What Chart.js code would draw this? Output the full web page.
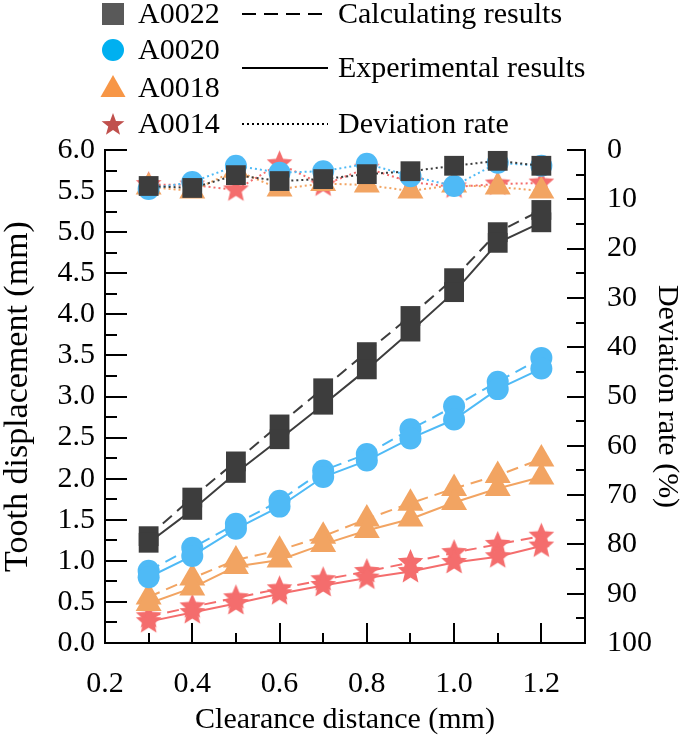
<!DOCTYPE html>
<html>
<head>
<meta charset="utf-8">
<script src="https://cdn.jsdelivr.net/npm/chart.js@4.4.1/dist/chart.umd.min.js"></script>
<style>
  html, body { margin: 0; padding: 0; background: #fff; }
  #wrap { width: 685px; height: 738px; }
</style>
</head>
<body>
<div id="wrap"><canvas id="chart" width="685" height="738"></canvas></div>
<script>
// ---------- DATOS ----------
const clearance = [0.3, 0.4, 0.5, 0.6, 0.7, 0.8, 0.9, 1.0, 1.1, 1.2];

const expA0022  = [1.22, 1.62, 2.07, 2.48, 2.90, 3.33, 3.79, 4.27, 4.87, 5.12];
const calcA0022 = [1.30, 1.77, 2.21, 2.66, 3.10, 3.54, 3.98, 4.44, 5.00, 5.27];
const devA0022  = [7.3, 7.7, 5.1, 6.3, 5.9, 4.9, 4.3, 3.2, 2.2, 3.2];

const expA0020  = [0.80, 1.06, 1.39, 1.66, 2.02, 2.22, 2.49, 2.72, 3.09, 3.34];
const calcA0020 = [0.88, 1.16, 1.45, 1.73, 2.10, 2.30, 2.60, 2.88, 3.18, 3.47];
const devA0020  = [7.9, 6.5, 3.2, 4.6, 4.3, 2.8, 5.3, 7.3, 2.6, 3.2];

const expA0018  = [0.48, 0.67, 0.93, 1.01, 1.20, 1.37, 1.51, 1.71, 1.88, 2.02];
const calcA0018 = [0.56, 0.79, 1.01, 1.13, 1.30, 1.51, 1.70, 1.88, 2.04, 2.24];
const devA0018  = [7.5, 8.3, 4.1, 7.9, 6.8, 7.1, 8.3, 7.1, 7.5, 8.3];

const expA0014  = [0.26, 0.37, 0.48, 0.60, 0.70, 0.79, 0.87, 0.98, 1.05, 1.18];
const calcA0014 = [0.32, 0.44, 0.55, 0.66, 0.77, 0.87, 0.98, 1.10, 1.20, 1.30];
const devA0014  = [7.0, 7.1, 8.1, 2.8, 7.1, 3.7, 6.5, 7.5, 6.9, 6.7];

const xTicks  = [0.2, 0.4, 0.6, 0.8, 1.0, 1.2];
const yTicks  = [0.0, 0.5, 1.0, 1.5, 2.0, 2.5, 3.0, 3.5, 4.0, 4.5, 5.0, 5.5, 6.0];
const y2Ticks = [0, 10, 20, 30, 40, 50, 60, 70, 80, 90, 100];

const FONT = "'Liberation Serif', 'Times New Roman', serif";

// ---------- ESTRELLA RELLENA ----------
function makeStar(color, outer) {
    const size = Math.ceil(outer * 2) + 2;
    const c = document.createElement('canvas');
    c.width = size; c.height = size;
    const g = c.getContext('2d');
    g.fillStyle = color;
    g.beginPath();
    for (let i = 0; i < 10; i++) {
        const r = i % 2 ? outer * 0.45 : outer;
        const a = -Math.PI / 2 + i * Math.PI / 5;
        g.lineTo(size / 2 + r * Math.cos(a), size / 2 + r * Math.sin(a));
    }
    g.closePath();
    g.fill();
    return c;
}

const series = [
    { name: 'A0022', color: '#3d3d3d', style: 'rect', radius: 14, exp: expA0022, calc: calcA0022, dev: devA0022 },
    { name: 'A0020', color: '#4fbaf6', style: 'circle', radius: 11, exp: expA0020, calc: calcA0020, dev: devA0020 },
    { name: 'A0018', color: '#f2a462', style: 'triangle', radius: 15, exp: expA0018, calc: calcA0018, dev: devA0018 },
    { name: 'A0014', color: '#f46d6d', style: makeStar('#f46d6d', 13.5), radius: 13, exp: expA0014, calc: calcA0014, dev: devA0014 }
];

function pts(vals) {
    return clearance.map((x, i) => ({ x: x, y: vals[i] }));
}

const datasets = [];
series.forEach(s => {
    const base = {
        borderColor: s.color, backgroundColor: s.color,
        pointStyle: s.style, pointRadius: s.radius, pointBorderWidth: 0,
        pointBackgroundColor: s.color, borderWidth: 2, fill: false, tension: 0
    };
    datasets.push(Object.assign({}, base, { label: s.name + ' exp', data: pts(s.exp), yAxisID: 'y' }));
    datasets.push(Object.assign({}, base, { label: s.name + ' calc', data: pts(s.calc), yAxisID: 'y', borderDash: [12, 7] }));
    datasets.push(Object.assign({}, base, { label: s.name + ' dev', data: pts(s.dev), yAxisID: 'y2', borderDash: [2, 3] }));
});

// ---------- MARCAS HACIA DENTRO ----------
const inwardTicks = {
    id: 'inwardTicks',
    beforeDatasetsDraw(chart) {
        const ctx = chart.ctx;
        const a = chart.chartArea;
        const sx = chart.scales.x, sy = chart.scales.y, sy2 = chart.scales.y2;
        ctx.save();
        ctx.strokeStyle = '#000';
        ctx.lineWidth = 2;
        ctx.beginPath();
        for (let v = 0.2; v <= 1.25; v += 0.1) {
            const px = Math.round(sx.getPixelForValue(v));
            const major = Math.round(v * 10) % 2 === 0;
            ctx.moveTo(px, a.bottom);
            ctx.lineTo(px, a.bottom - (major ? 20 : 10));
        }
        for (let v = 0; v <= 6.001; v += 0.25) {
            const py = Math.round(sy.getPixelForValue(v));
            const major = Math.round(v * 4) % 2 === 0;
            ctx.moveTo(a.left, py);
            ctx.lineTo(a.left + (major ? 22 : 12), py);
        }
        for (let v = 0; v <= 100; v += 5) {
            const py = Math.round(sy2.getPixelForValue(v));
            const major = v % 10 === 0;
            ctx.moveTo(a.right, py);
            ctx.lineTo(a.right - (major ? 18 : 9), py);
        }
        ctx.stroke();
        ctx.restore();
    }
};

// ---------- LEYENDA ----------
const legendColors = ['#595959', '#00b0f0', '#f79646', '#c0504d'];
const customLegend = {
    id: 'customLegend',
    afterDraw(chart) {
        const ctx = chart.ctx;
        ctx.save();
        const rows = [14, 50, 88, 124];
        series.forEach((s, i) => {
            const cx = 113, cy = rows[i];
            ctx.fillStyle = legendColors[i];
            ctx.beginPath();
            if (i === 0) {
                ctx.rect(cx - 11, cy - 11, 22, 22);
            } else if (i === 1) {
                ctx.arc(cx, cy, 11, 0, Math.PI * 2);
            } else if (i === 2) {
                ctx.moveTo(cx, cy - 13);
                ctx.lineTo(cx + 12.5, cy + 9);
                ctx.lineTo(cx - 12.5, cy + 9);
                ctx.closePath();
            } else {
                for (let k = 0; k < 10; k++) {
                    const r = k % 2 ? 5 : 12;
                    const ang = -Math.PI / 2 + k * Math.PI / 5;
                    ctx.lineTo(cx + r * Math.cos(ang), cy + 1 + r * Math.sin(ang));
                }
                ctx.closePath();
            }
            ctx.fill();
            ctx.fillStyle = '#000';
            ctx.font = '30px ' + FONT;
            ctx.textBaseline = 'middle';
            ctx.textAlign = 'left';
            ctx.fillText(s.name, 138, cy + 1);
        });

        const lines = [
            { y: 14, dash: [14, 8], label: 'Calculating results' },
            { y: 68, dash: [], label: 'Experimental results' },
            { y: 124, dash: [2, 3], label: 'Deviation rate' }
        ];
        lines.forEach(l => {
            ctx.strokeStyle = '#000';
            ctx.lineWidth = 2;
            ctx.setLineDash(l.dash);
            ctx.beginPath();
            ctx.moveTo(242, l.y);
            ctx.lineTo(328, l.y);
            ctx.stroke();
            ctx.setLineDash([]);
            ctx.fillStyle = '#000';
            ctx.fillText(l.label, 338, l.y + 1);
        });
        ctx.restore();
    }
};

// ---------- GRÁFICA ----------
const ctx = document.getElementById('chart');
const chart = new Chart(ctx, {
    type: 'line',
    data: { datasets: datasets },
    options: {
        responsive: false,
        devicePixelRatio: 1,
        animation: false,
        layout: { padding: { top: 150, left: 0, right: 0, bottom: 0 } },
        plugins: {
            legend: { display: false },
            tooltip: { enabled: false }
        },
        scales: {
            x: {
                type: 'linear',
                min: 0.2,
                max: 1.3,
                afterBuildTicks: s => { s.ticks = xTicks.map(v => ({ value: v })); },
                afterFit: s => { s.height = 95; },
                grid: { drawOnChartArea: false, drawTicks: false },
                border: { display: true, color: '#000', width: 2 },
                ticks: {
                    padding: 23, color: '#000',
                    font: { family: FONT, size: 30 },
                    callback: v => v.toFixed(1)
                },
                title: {
                    display: true, text: 'Clearance distance (mm)', color: '#000',
                    font: { family: FONT, size: 30 }, padding: 0
                }
            },
            y: {
                type: 'linear',
                position: 'left',
                min: 0,
                max: 6,
                afterBuildTicks: s => { s.ticks = yTicks.map(v => ({ value: v })); },
                afterFit: s => { s.width = 105; },
                grid: { drawOnChartArea: false, drawTicks: false },
                border: { display: true, color: '#000', width: 2 },
                ticks: {
                    padding: 10, color: '#000',
                    font: { family: FONT, size: 30 },
                    callback: v => v.toFixed(1)
                },
                title: {
                    display: true, text: 'Tooth displacement (mm)', color: '#000',
                    font: { family: FONT, size: 34 }, padding: { top: -2, bottom: 0 }
                }
            },
            y2: {
                type: 'linear',
                position: 'right',
                reverse: true,
                min: 0,
                max: 100,
                afterBuildTicks: s => { s.ticks = y2Ticks.map(v => ({ value: v })); },
                afterFit: s => { s.width = 100; },
                grid: { drawOnChartArea: false, drawTicks: false },
                border: { display: true, color: '#000', width: 2 },
                ticks: {
                    padding: 22, color: '#000',
                    font: { family: FONT, size: 30 }
                },
                title: {
                    display: true, text: 'Deviation rate (%)', color: '#000',
                    font: { family: FONT, size: 30 }, padding: 0
                }
            }
        }
    },
    plugins: [inwardTicks, customLegend]
});
</script>
</body>
</html>
